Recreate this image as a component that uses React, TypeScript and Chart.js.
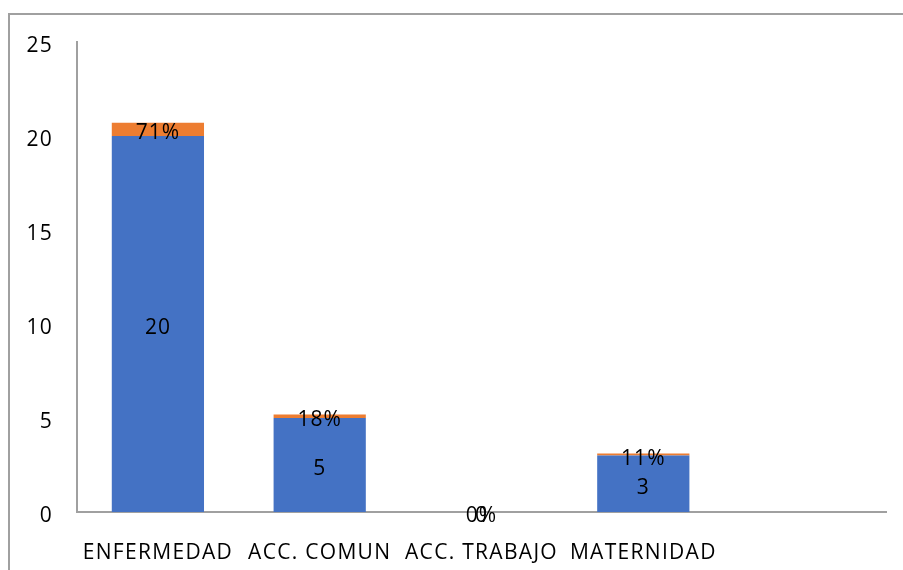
import React, { useEffect, useRef } from "react";
import { Chart, registerables } from "chart.js";

Chart.register(...registerables);

const categories = ["ENFERMEDAD", "ACC. COMUN", "ACC. TRABAJO", "MATERNIDAD", ""];
const countValues: (number | null)[] = [20, 5, 0, 3, null];
const shareValues: (number | null)[] = [0.71, 0.18, 0, 0.11, null];
const yTicks = [0, 5, 10, 15, 20, 25];

const FONT = "'Open Sans', 'Liberation Sans', sans-serif";

const spacingPlugin = {
  id: "spacing",
  beforeDraw(chart: any) {
    chart.ctx.letterSpacing = "1.3px";
  },
};

const labelPlugin = {
  id: "segLabels",
  afterDatasetsDraw(chart: any) {
    const ctx = chart.ctx;
    ctx.save();
    ctx.letterSpacing = "1px";
    ctx.font = `21px ${FONT}`;
    ctx.fillStyle = "#000";
    ctx.textAlign = "center";
    ctx.textBaseline = "middle";
    chart.data.datasets.forEach((ds: any, di: number) => {
      const meta = chart.getDatasetMeta(di);
      meta.data.forEach((el: any, i: number) => {
        const v = ds.data[i];
        if (v === null || v === undefined) return;
        const { x, y, base } = el.getProps(["x", "y", "base"], true);
        const cy = (y + base) / 2 + 4;
        const text = di === 0 ? String(v) : `${Math.round(v * 100)}%`;
        ctx.fillText(text, x, cy);
      });
    });
    ctx.restore();
  },
};

export default function App() {
  const ref = useRef<HTMLCanvasElement>(null);
  useEffect(() => {
    if (!ref.current) return;
    const chart = new Chart(ref.current, {
      type: "bar",
      data: {
        labels: categories,
        datasets: [
          {
            label: "Cantidad",
            data: countValues,
            backgroundColor: "#4472C4",
            barPercentage: 0.57,
            categoryPercentage: 1,
          },
          {
            label: "Porcentaje",
            data: shareValues,
            backgroundColor: "#ED7D31",
            barPercentage: 0.57,
            categoryPercentage: 1,
          },
        ],
      },
      options: {
        responsive: false,
        animation: false,
        layout: { padding: { left: 0, right: 17, top: 42, bottom: 0 } },
        plugins: { legend: { display: false }, tooltip: { enabled: false } },
        scales: {
          x: {
            stacked: true,
            grid: { display: false, drawTicks: false },
            border: { display: true, color: "#A0A0A0", width: 2 },
            ticks: {
              autoSkip: false,
              maxRotation: 0,
              minRotation: 0,
              padding: 28,
              color: "#000",
              font: { family: FONT, size: 21 },
            },
            afterFit: (s: any) => {
              s.height = 58;
            },
          },
          y: {
            stacked: true,
            min: 0,
            max: 25,
            afterBuildTicks: (s: any) => {
              s.ticks = yTicks.map((v) => ({ value: v }));
            },
            grid: { display: false, drawTicks: false },
            border: { display: true, color: "#A0A0A0", width: 2 },
            ticks: {
              padding: 24,
              labelOffset: 4,
              color: "#000",
              font: { family: FONT, size: 21 },
            },
            afterFit: (s: any) => {
              s.width = 77;
            },
          },
        },
      },
      plugins: [spacingPlugin, labelPlugin],
    });
    return () => chart.destroy();
  }, []);
  return (
    <div
      style={{
        position: "fixed",
        left: 0,
        top: 0,
        width: 903,
        height: 570,
        overflow: "hidden",
        background: "#fff",
      }}
    >
      <div
        style={{
          position: "absolute",
          left: 8,
          top: 13,
          width: 1200,
          height: 1200,
          borderTop: "2px solid #A0A0A0",
          borderLeft: "2px solid #A0A0A0",
        }}
      />
      <canvas
        ref={ref}
        width={903}
        height={570}
        style={{ position: "absolute", left: 0, top: 0 }}
      />
    </div>
  );
}
